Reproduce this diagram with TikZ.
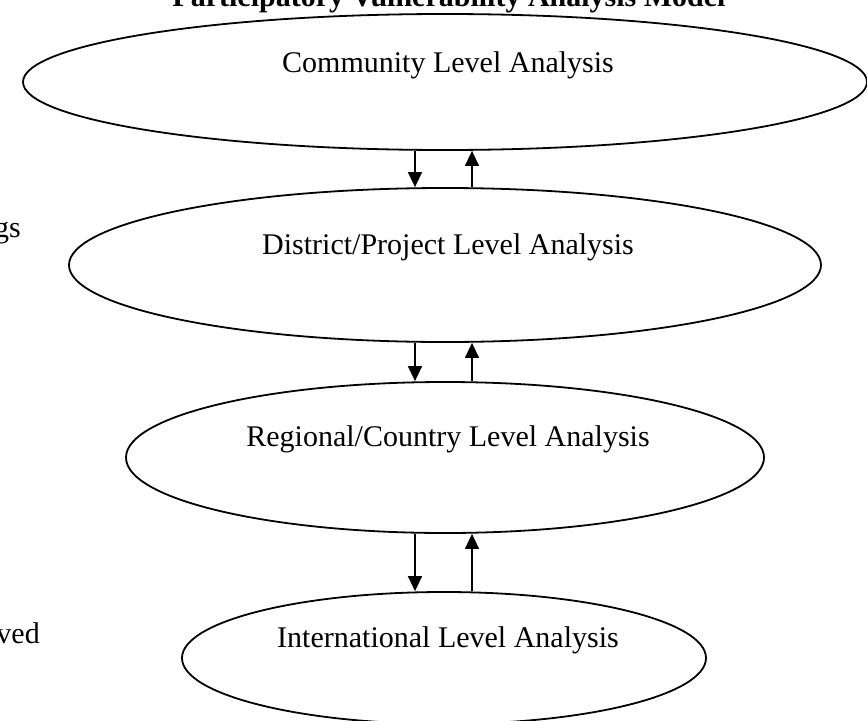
\documentclass[tikz,border=0pt]{standalone}
\usepackage{fontspec}
\setmainfont{Liberation Serif}
\usetikzlibrary{shapes.geometric,arrows.meta,calc}
\tikzset{
  lvl/.style={ellipse, draw, line width=1.8pt, inner sep=0pt},
  lbl/.style={inner sep=0pt, anchor=base, font=\fontsize{30}{36}\selectfont},
  side/.style={inner sep=0pt, anchor=base east, font=\fontsize{30}{36}\selectfont},
  arr/.style={line width=1.5pt, -{Triangle[length=15pt,width=14pt]}}
}
\begin{document}
\begin{tikzpicture}[x=1pt,y=-1pt]
\clip (0,0) rectangle (867,720);
\fill[white] (0,0) rectangle (867,720);
% title
\node[inner sep=0pt, anchor=base, font=\fontsize{30}{36}\selectfont\bfseries] (title) at (449,6) {Participatory Vulnerability Analysis Model};
% ellipses
\node[lvl, minimum width=844pt, minimum height=136pt] (e1) at (445,82) {};
\node[lvl, minimum width=752pt, minimum height=154pt] (e2) at (445,265) {};
\node[lvl, minimum width=638pt, minimum height=151pt] (e3) at (445,457.5) {};
\node[lvl, minimum width=524pt, minimum height=132pt] (e4) at (444,658) {};
% labels
\node[lbl] (t1) at (448,72) {Community Level Analysis};
\node[lbl] (t2) at (448,254) {District/Project Level Analysis};
\node[lbl] (t3) at (448,446) {Regional/Country Level Analysis};
\node[lbl] (t4) at (448,647) {International Level Analysis};
% side fragments
\node[side] (s1) at (21,237) {gs};
\node[side] (s2) at (40,643) {ved};
% arrows
\coordinate (xd) at (415,0);
\coordinate (xu) at (472,0);
\draw[arr] (e1.south -| xd) -- (e2.north -| xd);
\draw[arr] (e2.north -| xu) -- (e1.south -| xu);
\draw[arr] (e2.south -| xd) -- (e3.north -| xd);
\draw[arr] (e3.north -| xu) -- (e2.south -| xu);
\draw[arr] (e3.south -| xd) -- (e4.north -| xd);
\draw[arr] (e4.north -| xu) -- (e3.south -| xu);
\end{tikzpicture}
\end{document}
